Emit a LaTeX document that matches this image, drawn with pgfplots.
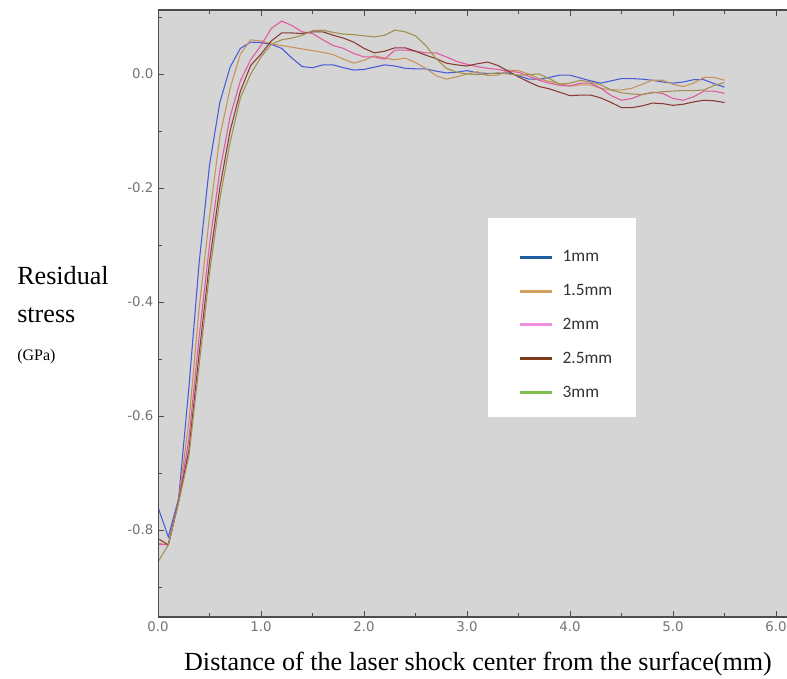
\documentclass[border=0pt]{standalone}
\usepackage{pgfplots}
\usepackage{pgfplotstable}
\pgfplotsset{compat=1.18}
\usepackage{fontspec}
\setmainfont{Liberation Serif}
\newfontfamily\tickfont{DejaVu Sans}
\newfontfamily\legfont{Carlito}
\definecolor{bgray}{HTML}{D5D5D5}
\definecolor{cblue}{HTML}{4A5AD6}
\definecolor{corange}{HTML}{C8925C}
\definecolor{cpink}{HTML}{E0589E}
\definecolor{cbrown}{HTML}{8A3A34}
\definecolor{colive}{HTML}{A09050}
\definecolor{lblue}{HTML}{1F5DA0}
\definecolor{lorange}{HTML}{D4A060}
\definecolor{lpink}{HTML}{F08CE0}
\definecolor{lbrown}{HTML}{7B3B1B}
\definecolor{lgreen}{HTML}{80C050}

\pgfplotstableread{
x    b       o       p       r       g
0.0 -0.760  -0.823  -0.825  -0.815  -0.856
0.1 -0.812  -0.826  -0.826  -0.826  -0.826
0.2 -0.745  -0.748  -0.750  -0.750  -0.752
0.3 -0.550  -0.610  -0.640  -0.660  -0.670
0.4 -0.330  -0.410  -0.460  -0.490  -0.510
0.5 -0.160  -0.250  -0.300  -0.330  -0.350
0.6 -0.050  -0.110  -0.170  -0.200  -0.220
0.7  0.012  -0.025  -0.075  -0.100  -0.120
0.8  0.045   0.035  -0.012  -0.030  -0.042
0.9  0.056   0.060   0.025   0.015   0.000
1.0  0.055   0.058   0.050   0.035   0.030
1.1  0.052   0.053   0.080   0.058   0.052
1.2  0.045   0.050   0.093   0.072   0.060
1.3  0.028   0.047   0.085   0.072   0.063
1.4  0.013   0.044   0.074   0.071   0.068
1.5  0.011   0.041   0.071   0.074   0.076
1.6  0.016   0.038   0.060   0.074   0.077
1.7  0.016   0.034   0.050   0.068   0.073
1.8  0.011   0.026   0.045   0.063   0.070
1.9  0.007   0.019   0.036   0.056   0.069
2.0  0.008   0.024   0.030   0.045   0.067
2.1  0.012   0.032   0.030   0.037   0.065
2.2  0.016   0.028   0.026   0.040   0.068
2.3  0.014   0.025   0.042   0.046   0.077
2.4  0.010   0.028   0.042   0.046   0.074
2.5  0.009   0.020   0.040   0.040   0.067
2.6  0.009   0.010   0.037   0.033   0.050
2.7  0.005  -0.003   0.037   0.027   0.027
2.8  0.002  -0.009   0.030   0.019   0.010
2.9  0.003  -0.005   0.022   0.016   0.003
3.0  0.006   0.000   0.017   0.014   0.000
3.1  0.002   0.004   0.013   0.018  -0.001
3.2  0.001  -0.003   0.010   0.021   0.000
3.3  0.001  -0.002   0.008   0.015   0.002
3.4  0.002   0.007   0.005   0.005   0.000
3.5 -0.003   0.006   0.003  -0.005  -0.002
3.6 -0.009   0.000  -0.004  -0.014  -0.001
3.7 -0.009  -0.008  -0.011  -0.022   0.000
3.8 -0.006  -0.013  -0.016  -0.026  -0.008
3.9 -0.002  -0.017  -0.020  -0.032  -0.018
4.0 -0.002  -0.021  -0.021  -0.038  -0.016
4.1 -0.007  -0.019  -0.016  -0.037  -0.011
4.2 -0.012  -0.019  -0.016  -0.037  -0.014
4.3 -0.016  -0.025  -0.025  -0.042  -0.019
4.4 -0.012  -0.028  -0.038  -0.050  -0.028
4.5 -0.008  -0.028  -0.046  -0.059  -0.033
4.6 -0.008  -0.025  -0.043  -0.059  -0.035
4.7 -0.009  -0.018  -0.036  -0.056  -0.036
4.8 -0.011  -0.011  -0.032  -0.051  -0.033
4.9 -0.014  -0.011  -0.034  -0.052  -0.031
5.0 -0.016  -0.018  -0.043  -0.055  -0.030
5.1 -0.014  -0.022  -0.046  -0.053  -0.029
5.2 -0.010  -0.016  -0.040  -0.049  -0.029
5.3 -0.010  -0.006  -0.030  -0.046  -0.028
5.4 -0.017  -0.006  -0.030  -0.047  -0.020
5.5 -0.023  -0.011  -0.034  -0.050  -0.015
}\stressdata

\begin{document}
\begin{tikzpicture}
\path[use as bounding box] (-118.5pt,-45.75pt) rectangle (471.75pt,462.75pt);
\begin{axis}[
  at={(0pt,0pt)}, anchor=south west,
  scale only axis, width=471.75pt, height=455.25pt,
  xmin=0, xmax=6.107, ymin=-0.9526, ymax=0.1123,
  axis background/.style={fill=bgray},
  axis line style={draw=none},
  xtick={0,1,2,3,4,5,6},
  minor xtick={0.5,1.5,2.5,3.5,4.5,5.5},
  ytick={-0.8,-0.6,-0.4,-0.2,0},
  minor ytick={-0.9,-0.7,-0.5,-0.3,-0.1,0.1},
  xtick pos=both, xticklabel pos=left,
  ytick pos=left,
  tick align=inside,
  major tick length=4.5pt, minor tick length=3pt,
  every tick/.style={black!70, line width=0.6pt},
  /pgf/number format/assume math mode=true,
  xticklabel style={/pgf/number format/.cd, fixed, fixed zerofill, precision=1},
  yticklabel style={/pgf/number format/.cd, fixed, fixed zerofill, precision=1},
  tick label style={font=\tickfont\fontsize{10}{12}\selectfont, text=black!55},
  legend style={at={(axis cs:3.495,-0.4404)}, anchor=west, draw=none, fill=none,
    font=\legfont\fontsize{13}{15}\selectfont, text=black!80,
    inner xsep=0pt, inner ysep=0pt, row sep=11.5pt,
    nodes={inner sep=2pt}},
  legend cell align=left,
  legend image code/.code={\draw[#1, line width=2.2pt] (0pt,0pt) -- (24pt,0pt); \path (30pt,0pt);},
]
\fill[white] (axis cs:3.204,-0.2526) rectangle (axis cs:4.641,-0.6018);
\addlegendimage{lblue}
\addlegendimage{lorange}
\addlegendimage{lpink}
\addlegendimage{lbrown}
\addlegendimage{lgreen}
\legend{1mm,1.5mm,2mm,2.5mm,3mm}
\addplot[forget plot, cblue, line width=0.8pt] table[x=x,y=b] {\stressdata};
\addplot[forget plot, corange, line width=0.8pt] table[x=x,y=o] {\stressdata};
\addplot[forget plot, cpink, line width=0.8pt] table[x=x,y=p] {\stressdata};
\addplot[forget plot, cbrown, line width=0.8pt] table[x=x,y=r] {\stressdata};
\addplot[forget plot, colive, line width=0.8pt] table[x=x,y=g] {\stressdata};
\draw[black!70, line width=0.8pt] (rel axis cs:1,1) -- (rel axis cs:0,1) -- (rel axis cs:0,0) -- (rel axis cs:1,0);
\end{axis}
\node[anchor=base west, inner sep=0pt, font=\fontsize{19.6}{22}\selectfont] at (-105.75pt,249pt) {Residual};
\node[anchor=base west, inner sep=0pt, font=\fontsize{19.6}{22}\selectfont] at (-105.75pt,220.5pt) {stress};
\node[anchor=base west, inner sep=0pt, font=\fontsize{12}{14}\selectfont] at (-105.75pt,192pt) {(GPa)};
\node[anchor=base, inner sep=0pt, font=\fontsize{19.6}{22}\selectfont] at (240pt,-39.75pt) {Distance of the laser shock center from the surface(mm)};
\end{tikzpicture}
\end{document}
